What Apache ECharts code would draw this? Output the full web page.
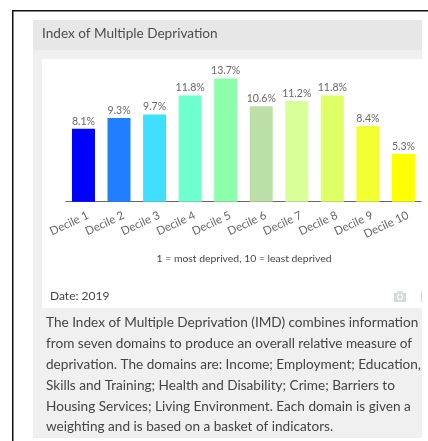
<!DOCTYPE html>
<html>
<head>
<meta charset="utf-8">
<style>html,body{margin:0;padding:0;background:#fff}#chart{width:428px;height:441px}</style>
<script src="https://cdn.jsdelivr.net/npm/echarts@6/dist/echarts.min.js"></script>
</head>
<body>
<div id="chart"></div>
<script>
const categories = ['Decile 1','Decile 2','Decile 3','Decile 4','Decile 5','Decile 6','Decile 7','Decile 8','Decile 9','Decile 10'];
const shares = [8.1, 9.3, 9.7, 11.8, 13.7, 10.6, 11.2, 11.8, 8.4, 5.3];
const barColors = ['#0000ff','#1f7fff','#3fdfff','#6fffcf','#8cffaa','#bcdfa8','#d9ff99','#dfff66','#f2ff33','#ffff00'];
const titleText = 'Index of Multiple Deprivation';
const noteText = '1 = most deprived, 10 = least deprived';
const dateText = 'Date: 2019';
const bodyLines = [
  'The Index of Multiple Deprivation (IMD) combines information',
  'from seven domains to produce an overall relative measure of',
  'deprivation. The domains are: Income; Employment; Education,',
  'Skills and Training; Health and Disability; Crime; Barriers to',
  'Housing Services; Living Environment. Each domain is given a',
  'weighting and is based on a basket of indicators.'
];
const font = 'Lato, sans-serif';

const rect = (x, y, width, height, fill, z) => ({type:'rect', shape:{x, y, width, height}, style:{fill}, z, silent:true});
const text = (x, y, str, size, fill, align) => ({
  type:'text', x, y, z:5, silent:true,
  style:{text:str, font:size + 'px ' + font, fill, textAlign:align || 'left', textVerticalAlign:'middle'}
});

const panels = [
  // outer frame
  rect(12, 10, 416, 1.5, '#111', -10),
  rect(12, 10, 1.5, 431, '#111', -10),
  // card, header band, plot area
  rect(33, 20, 389, 418, '#f0f0f0', -9),
  rect(33, 20, 389, 30, '#e7e7e7', -8),
  rect(42, 59, 380, 249, '#ffffff', -8)
];

// camera icon and the edge of its neighbour in the card footer
const footerIcons = [
  {type:'polygon', z:5, silent:true, shape:{points:[[394,293],[397,293],[398,291],[402,291],[403,293],[406,293],[406,302],[394,302]]}, style:{fill:'#d4d9dc'}},
  {type:'circle', z:6, silent:true, shape:{cx:400, cy:297, r:3}, style:{fill:'#ffffff'}},
  {type:'circle', z:7, silent:true, shape:{cx:400, cy:297, r:2}, style:{fill:'#d4d9dc'}},
  rect(421, 291, 1, 11, '#d4d9dc', 5)
];

const chart = echarts.init(document.getElementById('chart'), null, {renderer:'canvas'});
chart.setOption({
  animation:false,
  backgroundColor:'#ffffff',
  grid:{left:65.7, width:355.5, top:75.7, height:126},
  xAxis:{
    type:'category', data:categories,
    axisLine:{lineStyle:{color:'#666', width:1}},
    axisTick:{alignWithLabel:true, length:7, lineStyle:{color:'#666'}},
    axisLabel:{rotate:25, interval:0, color:'#666', fontFamily:font, fontSize:11.5, margin:15, padding:[0,-5,0,0]}
  },
  yAxis:{type:'value', min:0, max:14, show:false},
  series:[{
    type:'bar', barWidth:23,
    data:shares.map((value, i) => ({value, itemStyle:{color:barColors[i]}})),
    label:{show:true, position:'top', distance:2, color:'#666', fontFamily:font, fontSize:10.5, formatter:p => p.value.toFixed(1) + '%'}
  }],
  graphic:[
    ...panels,
    text(42, 34, titleText, 13.6, '#4d4d4d'),
    text(244, 259, noteText, 10.4, '#444', 'center'),
    text(50, 296.5, dateText, 12, '#444'),
    ...footerIcons,
    ...bodyLines.map((line, i) => text(46, 323 + i * 20.8, line, 13.6, '#444'))
  ]
});
</script>
</body>
</html>
